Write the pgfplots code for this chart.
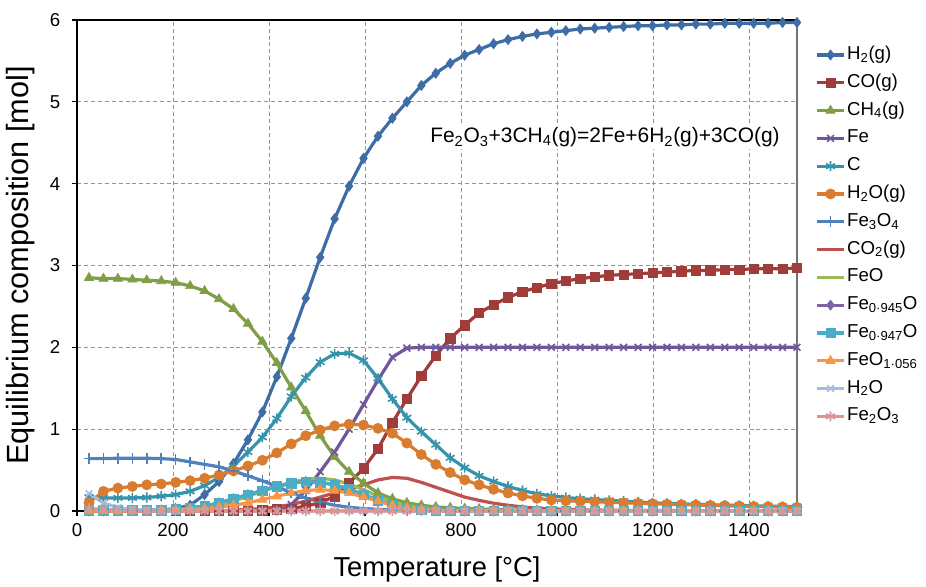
\documentclass[border=0pt]{standalone}
\usepackage{pgfplots}
\pgfplotsset{compat=1.18}
\usepackage{pgfplotstable}
\usepackage{fontspec}
\setmainfont{Liberation Sans}

\definecolor{cH2}{HTML}{3D6CA6}
\definecolor{cCO}{HTML}{A03C3A}
\definecolor{cCH4}{HTML}{7F9F46}
\definecolor{cFe}{HTML}{70569A}
\definecolor{cC}{HTML}{3594AC}
\definecolor{cH2Og}{HTML}{D97C30}
\definecolor{cFe3O4}{HTML}{4F81BD}
\definecolor{cCO2}{HTML}{C0504D}
\definecolor{cFeO}{HTML}{9BBB59}
\definecolor{cFeA}{HTML}{8064A2}
\definecolor{cFeB}{HTML}{4BACC6}
\definecolor{cFeOx}{HTML}{F79646}
\definecolor{cH2Ol}{HTML}{A5BCDD}
\definecolor{cFe2O3}{HTML}{D99694}

\pgfplotstableread{
T H2 CO CH4 Fe C H2Og Fe3O4 CO2 FeO FeA FeB FeOx H2Ol Fe2O3
25 0.00 0.00 2.85 0 0.17 0.10 0.64 0 0 0.01 0.01 0.00 0.21 0.03
55.10 0.00 0.00 2.84 0 0.16 0.24 0.64 0 0 0.01 0.01 0.00 0.10 0.02
85.20 0.00 0.00 2.84 0 0.16 0.28 0.645 0 0 0.01 0.01 0.00 0.04 0.01
115.31 0.00 0.00 2.83 0 0.16 0.30 0.645 0 0 0.01 0.01 0.00 0.02 0
145.41 0.01 0.00 2.82 0 0.165 0.32 0.645 0 0 0.01 0.01 0.00 0.01 0
175.51 0.01 0.00 2.81 0 0.18 0.33 0.64 0 0 0.01 0.01 0.005 0 0
205.61 0.03 0.00 2.79 0 0.20 0.35 0.63 0 0 0.02 0.02 0.01 0 0
235.71 0.07 0.00 2.75 0 0.24 0.37 0.60 0 0.005 0.04 0.04 0.02 0 0
265.82 0.20 0.00 2.69 0 0.31 0.40 0.57 0 0.03 0.06 0.06 0.03 0 0
295.92 0.36 0.00 2.59 0 0.41 0.44 0.54 0.005 0.07 0.10 0.10 0.05 0 0
326.02 0.58 0.00 2.47 0 0.55 0.49 0.49 0.01 0.12 0.15 0.15 0.07 0 0
356.12 0.87 0.005 2.29 0 0.72 0.55 0.43 0.02 0.18 0.20 0.20 0.10 0 0
386.22 1.21 0.01 2.07 0 0.90 0.62 0.37 0.03 0.24 0.25 0.25 0.14 0 0
416.33 1.64 0.02 1.81 0.01 1.13 0.71 0.30 0.05 0.30 0.30 0.30 0.18 0 0
446.43 2.11 0.03 1.51 0.08 1.40 0.82 0.22 0.08 0.35 0.34 0.34 0.22 0 0
476.53 2.60 0.06 1.22 0.25 1.63 0.92 0.16 0.12 0.39 0.36 0.36 0.25 0 0
506.63 3.10 0.10 0.92 0.48 1.82 0.99 0.11 0.17 0.40 0.35 0.35 0.26 0 0
536.73 3.57 0.18 0.66 0.72 1.92 1.04 0.07 0.22 0.38 0.32 0.32 0.25 0 0
566.84 3.97 0.34 0.48 1.00 1.93 1.06 0.045 0.27 0.33 0.27 0.27 0.22 0 0
596.94 4.31 0.52 0.34 1.30 1.84 1.05 0.03 0.32 0.26 0.20 0.20 0.17 0 0
627.04 4.58 0.76 0.22 1.60 1.62 1.01 0.02 0.38 0.18 0.13 0.13 0.12 0 0
657.14 4.80 1.08 0.15 1.88 1.37 0.95 0.01 0.41 0.11 0.07 0.07 0.07 0 0
687.24 5.00 1.37 0.10 1.99 1.14 0.83 0.005 0.40 0.06 0.035 0.035 0.04 0 0
717.35 5.20 1.65 0.07 2.00 0.97 0.69 0 0.35 0.03 0.015 0.015 0.02 0 0
747.45 5.35 1.90 0.05 2.00 0.81 0.57 0 0.29 0.01 0.005 0.005 0.01 0 0
777.55 5.47 2.11 0.04 2.00 0.65 0.47 0 0.23 0.005 0 0 0.005 0 0
807.65 5.57 2.27 0.03 2.00 0.53 0.38 0 0.17 0 0 0 0 0 0
837.76 5.64 2.42 0.025 2.00 0.43 0.32 0 0.13 0 0 0 0 0 0
867.86 5.71 2.52 0.02 2.00 0.36 0.265 0 0.095 0 0 0 0 0 0
897.96 5.76 2.61 0.015 2.00 0.30 0.22 0 0.07 0 0 0 0 0 0
928.06 5.80 2.68 0.012 2.00 0.25 0.185 0 0.05 0 0 0 0 0 0
958.16 5.83 2.73 0.01 2.00 0.21 0.155 0 0.035 0 0 0 0 0 0
988.27 5.85 2.78 0.009 2.00 0.185 0.135 0 0.025 0 0 0 0 0 0
1018.37 5.87 2.81 0.008 2.00 0.165 0.125 0 0.02 0 0 0 0 0 0
1048.47 5.89 2.84 0.007 2.00 0.15 0.118 0 0.015 0 0 0 0 0 0
1078.57 5.90 2.86 0.006 2.00 0.14 0.112 0 0.012 0 0 0 0 0 0
1108.67 5.91 2.88 0.006 2.00 0.13 0.106 0 0.01 0 0 0 0 0 0
1138.78 5.92 2.89 0.005 2.00 0.12 0.10 0 0.008 0 0 0 0 0 0
1168.88 5.93 2.90 0.005 2.00 0.11 0.094 0 0.007 0 0 0 0 0 0
1198.98 5.93 2.91 0.005 2.00 0.10 0.088 0 0.006 0 0 0 0 0 0
1229.08 5.94 2.92 0.004 2.00 0.093 0.083 0 0.005 0 0 0 0 0 0
1259.18 5.94 2.93 0.004 2.00 0.087 0.078 0 0.005 0 0 0 0 0 0
1289.29 5.95 2.94 0.004 2.00 0.082 0.073 0 0.004 0 0 0 0 0 0
1319.39 5.95 2.94 0.004 2.00 0.077 0.068 0 0.004 0 0 0 0 0 0
1349.49 5.96 2.95 0.003 2.00 0.072 0.064 0 0.003 0 0 0 0 0 0
1379.59 5.96 2.95 0.003 2.00 0.068 0.060 0 0.003 0 0 0 0 0 0
1409.69 5.96 2.96 0.003 2.00 0.064 0.056 0 0.003 0 0 0 0 0 0
1439.80 5.96 2.96 0.003 2.00 0.060 0.052 0 0.002 0 0 0 0 0 0
1469.90 5.97 2.96 0.003 2.00 0.057 0.048 0 0.002 0 0 0 0 0 0
1500 5.97 2.97 0.003 2.00 0.054 0.045 0 0.002 0 0 0 0 0 0
}\data

\pgfplotsset{
  ser/.style 2 args={color=#1, line width=2.4pt, mark size=#2,
    mark options={solid, fill=#1, draw=#1, line width=0.5pt}},
  serx/.style 2 args={color=#1, line width=2.4pt, mark size=#2,
    mark options={solid, draw=#1, line width=1.2pt}},
}

\begin{document}
\begin{tikzpicture}
\begin{axis}[
  name=ax,
  scale only axis,
  width=540pt, height=368.25pt,
  xmin=0, xmax=1500, ymin=0, ymax=6,
  xtick={0,200,...,1400}, ytick={0,1,...,6},
  tick pos=left,
  tick align=outside,
  major tick length=4pt,
  grid=major,
  major grid style={black!42, dash pattern=on 3pt off 2.2pt, line width=0.7pt},
  axis line style={black, line width=0.9pt},
  tick style={black, line width=0.9pt},
  tick label style={font=\fontsize{14}{14}\selectfont},
  yticklabel style={xshift=-5pt},
  xticklabel style={yshift=-2pt},
  /pgf/number format/assume math mode=true,
  /pgf/number format/1000 sep={},
  xlabel={Temperature [°C]},
  ylabel={Equilibrium composition [mol]},
  xlabel style={font=\fontsize{20.5}{20.5}\selectfont, at={(axis description cs:0.5,-0.118)}, anchor=center},
  ylabel style={font=\fontsize{23}{23}\selectfont, at={(axis description cs:-0.079,0.5)}, anchor=center},
  clip=false,
  legend cell align=left,
  legend image code/.code={\draw[mark repeat=2,mark phase=2] plot coordinates {(0cm,0cm) (0.36cm,0cm) (0.72cm,0cm)};},
  legend style={at={(axis description cs:1.025,0.950)}, anchor=north west,
    draw=none, fill=none, font=\fontsize{14}{14}\selectfont,
    row sep=5.65pt, inner sep=0pt,
    nodes={inner sep=1pt, text height=10pt, text depth=3.2pt}},
]
\addplot[ser={cH2}{3.8pt}, mark=diamond*] table[x=T,y=H2]{\data};
\addlegendentry{H\textsubscript{2}(g)}
\addplot[ser={cCO}{3.5pt}, mark=square*] table[x=T,y=CO]{\data};
\addlegendentry{CO(g)}
\addplot[ser={cCH4}{4pt}, mark=triangle*] table[x=T,y=CH4]{\data};
\addlegendentry{CH\textsubscript{4}(g)}
\addplot[serx={cFe}{3.6pt}, mark=x] table[x=T,y=Fe]{\data};
\addlegendentry{Fe}
\addplot[serx={cC}{3.8pt}, mark=asterisk] table[x=T,y=C]{\data};
\addlegendentry{C}
\addplot[ser={cH2Og}{3.8pt}, mark=*] table[x=T,y=H2Og]{\data};
\addlegendentry{H\textsubscript{2}O(g)}
\addplot[serx={cFe3O4}{4pt}, mark=+] table[x=T,y=Fe3O4]{\data};
\addlegendentry{Fe\textsubscript{3}O\textsubscript{4}}
\addplot[color=cCO2, line width=2.4pt, mark=none] table[x=T,y=CO2]{\data};
\addlegendentry{CO\textsubscript{2}(g)}
\addplot[color=cFeO, line width=2.4pt, mark=none] table[x=T,y=FeO]{\data};
\addlegendentry{FeO}
\addplot[ser={cFeA}{3.8pt}, mark=diamond*] table[x=T,y=FeA]{\data};
\addlegendentry{Fe\textsubscript{0·945}O}
\addplot[ser={cFeB}{3.5pt}, mark=square*] table[x=T,y=FeB]{\data};
\addlegendentry{Fe\textsubscript{0·947}O}
\addplot[ser={cFeOx}{4pt}, mark=triangle*] table[x=T,y=FeOx]{\data};
\addlegendentry{FeO\textsubscript{1·056}}
\addplot[serx={cH2Ol}{3.6pt}, mark=x] table[x=T,y=H2Ol]{\data};
\addlegendentry{H\textsubscript{2}O}
\addplot[serx={cFe2O3}{3.8pt}, mark=asterisk] table[x=T,y=Fe2O3]{\data};
\addlegendentry{Fe\textsubscript{2}O\textsubscript{3}}

\draw[black!55, line width=1pt] (rel axis cs:1,0) -- (rel axis cs:1,1);
\node[fill=white, inner sep=2pt, font=\fontsize{15.7}{15.7}\selectfont] at (axis cs:1100,4.57)
  {Fe\textsubscript{2}O\textsubscript{3}+3CH\textsubscript{4}(g)=2Fe+6H\textsubscript{2}(g)+3CO(g)};
\end{axis}
\path (ax.south west) ++(-57.75pt,-53.25pt);
\path (ax.south west) ++(636.75pt,383.25pt);
\end{tikzpicture}
\end{document}
